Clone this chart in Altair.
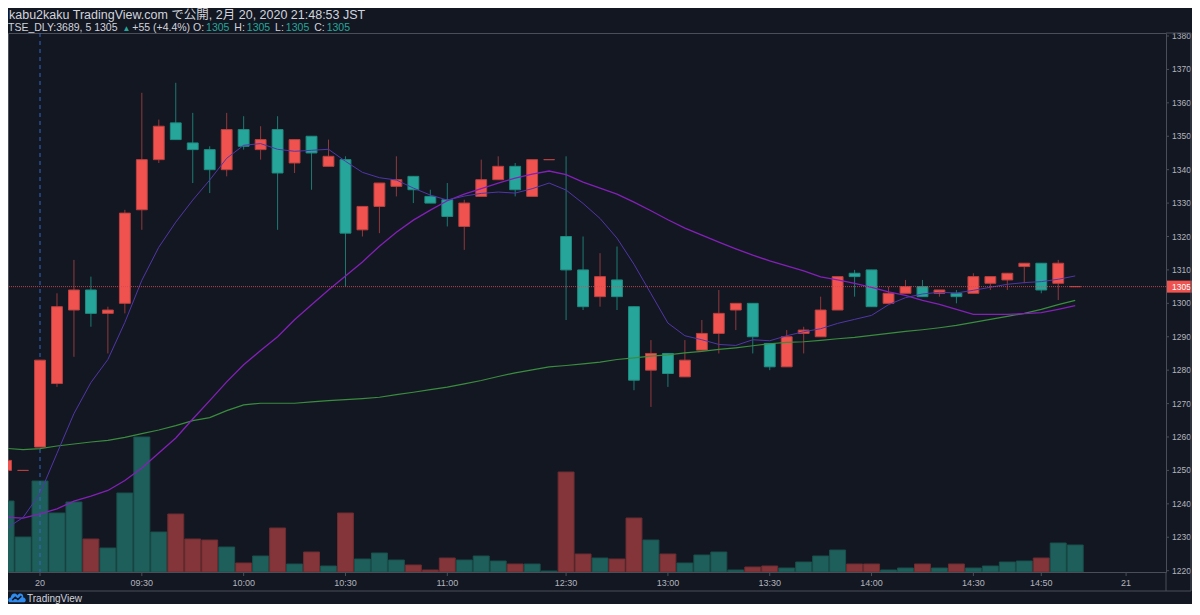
import altair as alt
import pandas as pd

# ---------------- data ----------------
# bar index: 0 = 2/20 09:00 ; -2,-1 = last two bars of 2/19 ; 31 = 12:30 ; 61 = 15:00
bar_index = list(range(-2, 62))
opens = [1250, 1250, 1257, 1276, 1298, 1304, 1297, 1300, 1328, 1343, 1354, 1348, 1346, 1340,
         1352, 1346, 1352, 1342, 1350, 1341, 1343, 1322, 1329, 1335, 1338, 1332, 1331, 1323,
         1332, 1337, 1341, 1332, 1343, 1320, 1310, 1302, 1307, 1299, 1280, 1285, 1278, 1286,
         1291, 1298, 1300, 1288, 1281, 1291, 1290, 1298, 1309, 1310, 1300, 1303, 1305, 1303,
         1303, 1303, 1306, 1307, 1311, 1312, 1306, 1305]
highs = [1254, 1250, 1283, 1303, 1313, 1308, 1299, 1328, 1363, 1355, 1366, 1357, 1347, 1357,
         1356, 1353, 1356, 1349, 1350, 1349, 1344, 1329, 1336, 1344, 1338, 1334, 1336, 1331,
         1343, 1344, 1342, 1343, 1343, 1344, 1320, 1315, 1317, 1299, 1289, 1285, 1289, 1295,
         1304, 1300, 1300, 1288, 1292, 1293, 1302, 1308, 1310, 1310, 1305, 1307, 1307, 1304,
         1304, 1309, 1308, 1309, 1312, 1312, 1313, 1305]
lows = [1240, 1250, 1257, 1275, 1284, 1293, 1285, 1297, 1322, 1342, 1349, 1336, 1333, 1338,
        1346, 1343, 1322, 1339, 1334, 1341, 1305, 1320, 1321, 1332, 1330, 1330, 1323, 1316,
        1332, 1337, 1332, 1332, 1343, 1295, 1298, 1299, 1298, 1274, 1269, 1275, 1278, 1286,
        1285, 1292, 1285, 1280, 1281, 1285, 1290, 1298, 1302, 1299, 1300, 1303, 1302, 1302,
        1300, 1303, 1304, 1304, 1306, 1303, 1301, 1305]
closes = [1253, 1250, 1283, 1299, 1304, 1297, 1298, 1327, 1343, 1353, 1349, 1346, 1340, 1352,
          1347, 1349, 1339, 1349, 1345, 1344, 1321, 1329, 1336, 1337, 1334, 1330, 1326, 1330,
          1337, 1341, 1334, 1343, 1343, 1310, 1299, 1308, 1302, 1277, 1285, 1279, 1283, 1291,
          1297, 1300, 1290, 1281, 1290, 1292, 1298, 1308, 1308, 1299, 1303, 1305, 1302, 1304,
          1302, 1308, 1308, 1309, 1312, 1304, 1312, 1305]
volumes = [71000, 35000, 91000, 59000, 70000, 33000, 24000, 79000, 135000, 40000, 58000, 33000,
           32000, 25000, 9000, 16000, 44000, 8000, 20000, 6000, 59000, 13000, 19000, 12000,
           7000, 2000, 14000, 12000, 16000, 11000, 8000, 8000, 1000, 100000, 18000, 14000,
           13000, 54000, 32000, 18000, 9000, 17000, 20000, 2000, 5000, 6000, 4000, 10000,
           16000, 22000, 8000, 8000, 2000, 4000, 8000, 4000, 8000, 4000, 6000, 10000, 11000,
           14000, 29000, 27000]
ma_fast = [1232.6, 1235.9, 1243.1, 1255.1, 1267.0, 1276.3, 1283.2, 1294.3, 1306.9, 1316.8,
           1324.3, 1330.9, 1336.9, 1343.4, 1347.3, 1347.8, 1346.1, 1345.5, 1345.8, 1346.1,
           1342.5, 1339.2, 1337.6, 1336.9, 1334.5, 1332.4, 1330.9, 1332.1, 1332.9, 1333.3,
           1333.0, 1334.3, 1336.0, 1333.9, 1329.9, 1325.4, 1319.5, 1311.7, 1302.9, 1294.1,
           1290.3, 1289.1, 1287.7, 1287.4, 1289.1, 1288.8, 1290.3, 1291.5, 1292.4, 1294.0,
           1295.2, 1296.4, 1299.6, 1301.7, 1302.8, 1303.3, 1303.1, 1303.9, 1304.8, 1305.7,
           1306.2, 1306.5, 1307.2, 1308.2]
ma_mid = [1236.0, 1235.7, 1237.0, 1238.5, 1240.8, 1242.3, 1244.0, 1247.0, 1250.7, 1255.2,
          1259.7, 1265.4, 1270.9, 1276.5, 1281.6, 1285.9, 1290.0, 1295.1, 1299.6, 1304.0,
          1308.2, 1312.4, 1317.1, 1321.3, 1324.9, 1327.9, 1330.7, 1332.7, 1334.3, 1336.0,
          1337.5, 1338.7, 1339.6, 1338.5, 1336.3, 1334.5, 1332.7, 1330.3, 1327.7, 1325.0,
          1322.5, 1320.4, 1318.3, 1316.3, 1314.4, 1312.7, 1311.2, 1309.7, 1307.9, 1307.0,
          1306.0, 1304.8, 1303.4, 1302.4, 1300.9, 1299.7, 1298.2, 1296.7, 1296.7, 1296.7,
          1296.9, 1297.2, 1298.2, 1299.3]
ma_slow = [1256.6, 1256.2, 1256.5, 1257.3, 1257.9, 1258.5, 1259.0, 1259.9, 1261.0, 1262.1,
           1263.4, 1264.9, 1265.8, 1267.9, 1269.6, 1270.1, 1270.1, 1270.1, 1270.5, 1270.9,
           1271.2, 1271.5, 1271.9, 1272.7, 1273.4, 1274.2, 1274.9, 1275.9, 1276.9, 1278.1,
           1279.2, 1280.1, 1281.0, 1281.4, 1281.9, 1282.4, 1283.2, 1283.7, 1284.2, 1284.6,
           1285.2, 1285.6, 1286.2, 1286.7, 1287.3, 1287.9, 1288.3, 1288.5, 1288.9, 1289.4,
           1289.8, 1290.4, 1291.0, 1291.6, 1292.1, 1292.7, 1293.4, 1294.3, 1295.2, 1296.1,
           1297.0, 1298.2, 1299.6, 1300.9]

time_tick_index = [0, 6, 12, 18, 24, 31, 37, 43, 49, 55, 59, 64]
time_tick_labels = ["20", "09:30", "10:00", "10:30", "11:00", "12:30", "13:00", "13:30",
                    "14:00", "14:30", "14:50", "21"]
price_ticks = list(range(1220, 1390, 10))
last_price = 1305
session_start_index = 0

header_line1 = "kabu2kaku TradingView.com で公開, 2月 20, 2020 21:48:53 JST"
header_parts = ["TSE_DLY:3689, 5 1305", "▲", "+55 (+4.4%) O:", "1305", "H:", "1305",
                "L:", "1305", "C:", "1305"]
header_part_teal = [False, True, False, True, False, True, False, True, False, True]
header_space_before = [False, False, True, False, True, False, True, False, True, False]
brand_text = "TradingView"

# ---------------- styles ----------------
BG = "#131722"
UP = "#f0534f"
DN = "#26a69a"
UP_EDGE = "#b8403f"
DN_EDGE = "#1f8a80"
UP_WICK = "#8f393d"
DN_WICK = "#1d7a72"
VOL_UP = "#1f5f5b"
VOL_DN = "#843539"
VOL_UP_EDGE = "#19504c"
VOL_DN_EDGE = "#6c2c30"
TXT = "#d1d4dc"
AX_TXT = "#b2b5be"
BORDER = "#4a4e59"
FONT = "Liberation Sans, Noto Sans CJK JP, sans-serif"
AX_FONT = "Liberation Sans"

W, H = 1158, 539
Y_MIN = 1219.6
PX_PER_YEN = 3.3416
Y_MAX = Y_MIN + H / PX_PER_YEN
VOL_FULL = 542000.0 * H / 542.0   # volume that would fill the whole pane height

df = pd.DataFrame({
    "k": bar_index, "o": opens, "h": highs, "l": lows, "c": closes, "v": volumes,
    "ma_fast": ma_fast, "ma_mid": ma_mid, "ma_slow": ma_slow,
})
df["body_lo"] = df[["o", "c"]].min(axis=1)
df["body_hi"] = df[["o", "c"]].max(axis=1)

xs = alt.Scale(domain=[-1.886, 66.35], nice=False, zero=False)
ys = alt.Scale(domain=[Y_MIN, Y_MAX], nice=False, zero=False)

is_up = "datum.c >= datum.o"

base = alt.Chart(df)

# volume drawn in the lower band of the same pane (volume rescaled into price units)
vol = base.transform_calculate(
    vx0="datum.k - 0.47", vx1="datum.k + 0.47",
    vbot=f"{Y_MIN}", vtop=f"{Y_MIN} + datum.v * {(Y_MAX - Y_MIN) / VOL_FULL}",
).mark_rect(clip=True, strokeWidth=1).encode(
    x=alt.X("vx0:Q", scale=xs, axis=None), x2="vx1:Q",
    y=alt.Y("vbot:Q", scale=ys, axis=None), y2="vtop:Q",
    fill=alt.condition(is_up, alt.value(VOL_UP), alt.value(VOL_DN)),
    stroke=alt.condition(is_up, alt.value(VOL_UP_EDGE), alt.value(VOL_DN_EDGE)),
)

session_line = alt.Chart(pd.DataFrame({"k": [session_start_index]})).mark_rule(
    color="#3465c8", strokeDash=[4, 4], strokeWidth=1
).encode(x=alt.X("k:Q", scale=xs, axis=None))

def ma_layer(field, color, width):
    return base.mark_line(clip=True, color=color, strokeWidth=width).encode(
        x=alt.X("k:Q", scale=xs, axis=None), y=alt.Y(f"{field}:Q", scale=ys, axis=None))

wicks = base.mark_rule(strokeWidth=1, clip=True).encode(
    x=alt.X("k:Q", scale=xs, axis=None),
    y=alt.Y("l:Q", scale=ys, axis=None), y2="h:Q",
    color=alt.condition(is_up, alt.value(UP_WICK), alt.value(DN_WICK)),
)

bodies = base.transform_calculate(x0="datum.k - 0.32", x1="datum.k + 0.32").mark_rect(
    clip=True, strokeWidth=1
).encode(
    x=alt.X("x0:Q", scale=xs, axis=None), x2="x1:Q",
    y=alt.Y("body_lo:Q", scale=ys, axis=None), y2="body_hi:Q",
    fill=alt.condition(is_up, alt.value(UP), alt.value(DN)),
    stroke=alt.condition(is_up, alt.value(UP_EDGE), alt.value(DN_EDGE)),
)

# ---- axes (ticks + labels through the chart's scales) ----
AX_FS = 8.5
pt = pd.DataFrame({"p": price_ticks})
price_tick_marks = alt.Chart(pt).mark_rule(color=BORDER, strokeWidth=1).encode(
    x=alt.value(W), x2=alt.value(W + 3), y=alt.Y("p:Q", scale=ys, axis=None))
price_tick_text = alt.Chart(pt).mark_text(align="left", baseline="middle", color=AX_TXT,
                                          font=AX_FONT, fontSize=AX_FS).encode(
    x=alt.value(W + 6), y=alt.Y("p:Q", scale=ys, axis=None), text=alt.Text("p:Q", format="d"))

tt = pd.DataFrame({"k": time_tick_index, "lab": time_tick_labels})
time_tick_marks = alt.Chart(tt).mark_rule(color=BORDER, strokeWidth=1).encode(
    x=alt.X("k:Q", scale=xs, axis=None), y=alt.value(H), y2=alt.value(H + 4))
time_tick_text = alt.Chart(tt).mark_text(align="center", baseline="middle", color=AX_TXT,
                                         font=AX_FONT, fontSize=9).encode(
    x=alt.X("k:Q", scale=xs, axis=None), y=alt.value(H + 11), text="lab:N")

lp = pd.DataFrame({"p": [last_price]})
price_line = alt.Chart(lp).mark_rule(color="#d9484f", strokeDash=[1, 1], strokeWidth=1,
                                     opacity=0.85).encode(y=alt.Y("p:Q", scale=ys, axis=None))
price_tag = alt.Chart(lp).transform_calculate(lo="datum.p - 1.8", hi="datum.p + 1.8").mark_rect(
    color=UP).encode(x=alt.value(W + 1), x2=alt.value(W + 32),
                     y=alt.Y("lo:Q", scale=ys, axis=None), y2="hi:Q")
price_tag_text = alt.Chart(lp).mark_text(align="left", baseline="middle", color="#ffffff",
                                         font=AX_FONT, fontSize=AX_FS).encode(
    x=alt.value(W + 6), y=alt.Y("p:Q", scale=ys, axis=None), text=alt.Text("p:Q", format="d"))

# ---- header ----
def text_at(s, x, y, color, size, font=FONT):
    return alt.Chart(pd.DataFrame({"t": [s]})).mark_text(
        align="left", baseline="alphabetic", color=color, font=font, fontSize=size
    ).encode(x=alt.value(x), y=alt.value(y), text="t:N")

# approximate advance widths (em) of Liberation Sans, used to lay the coloured pieces side by side
EM = {"T": .611, "S": .667, "E": .667, "_": .556, "D": .722, "L": .556, "Y": .667, ":": .278,
      ",": .278, " ": .278, "+": .584, "(": .333, ")": .333, ".": .278, "%": .889, "O": .778,
      "H": .722, "C": .722, "▲": .62}
def text_width(s, size):
    return sum(EM.get(ch, .556) for ch in s) * size

HDR2 = 10.5
decor = [text_at(header_line1, 1, -14.5, TXT, 12.5)]
cur = 0.0
for s, teal, sp in zip(header_parts, header_part_teal, header_space_before):
    if sp:
        cur += EM[" "] * HDR2
    size = 8 if s == "▲" else HDR2
    if s == "▲":
        cur += 1.5
    decor.append(text_at(s, cur, -2, DN if teal else TXT, size))
    cur += text_width(s, size) + 2.0

# TradingView brand mark (cloud + zigzag) and name
cloud = "M -0.75 0.5 C -1.1 0.5 -1.1 0.0 -0.72 -0.05 C -0.7 -0.55 -0.15 -0.7 0.05 -0.3 C 0.25 -0.65 0.78 -0.55 0.72 -0.05 C 1.1 0.0 1.1 0.5 0.75 0.5 Z"
zig = "M -0.55 0.25 L -0.2 -0.08 L 0.1 0.18 L 0.5 -0.22"
one = pd.DataFrame({"t": [brand_text]})
decor.append(alt.Chart(one).mark_point(shape=cloud, filled=True, color="#2e8bf0", size=300,
                                       opacity=1).encode(x=alt.value(9), y=alt.value(H + 26)))
decor.append(alt.Chart(one).mark_point(shape=zig, filled=False, color=BG, size=300,
                                       strokeWidth=1.5, opacity=1).encode(x=alt.value(9), y=alt.value(H + 26)))
decor.append(alt.Chart(one).mark_text(align="left", baseline="middle", color=TXT, font=AX_FONT,
                                      fontSize=10).encode(x=alt.value(19), y=alt.value(H + 27), text="t:N"))

# pane borders outside the plot area
RIGHT = W + 25
BOTTOM = H + 19
def hrule(x1, x2, y):
    return alt.Chart(one).mark_rule(color=BORDER, strokeWidth=1).encode(
        x=alt.value(x1), x2=alt.value(x2), y=alt.value(y))
def vrule(x, y1, y2):
    return alt.Chart(one).mark_rule(color=BORDER, strokeWidth=1).encode(
        x=alt.value(x), y=alt.value(y1), y2=alt.value(y2))
decor += [hrule(W, RIGHT, 0), vrule(RIGHT, 0, BOTTOM), hrule(0, RIGHT, BOTTOM),
          vrule(W, H, BOTTOM)]

chart = alt.layer(
    vol, session_line, wicks, bodies,
    ma_layer("ma_slow", "#3a8c3e", 1.2),
    ma_layer("ma_mid", "#8420b8", 1.3),
    ma_layer("ma_fast", "#5036a8", 1.0),
    price_line, price_tick_marks, price_tick_text, time_tick_marks, time_tick_text,
    price_tag, price_tag_text, *decor,
).properties(
    width=W, height=H,
    padding={"left": 0, "top": 25, "right": 26, "bottom": 32},
    autosize=alt.AutoSizeParams(type="none"),
    background=BG,
).configure_view(stroke=BORDER, strokeWidth=1)

chart.save("out.html", embed_options={"renderer": "svg", "actions": False})
